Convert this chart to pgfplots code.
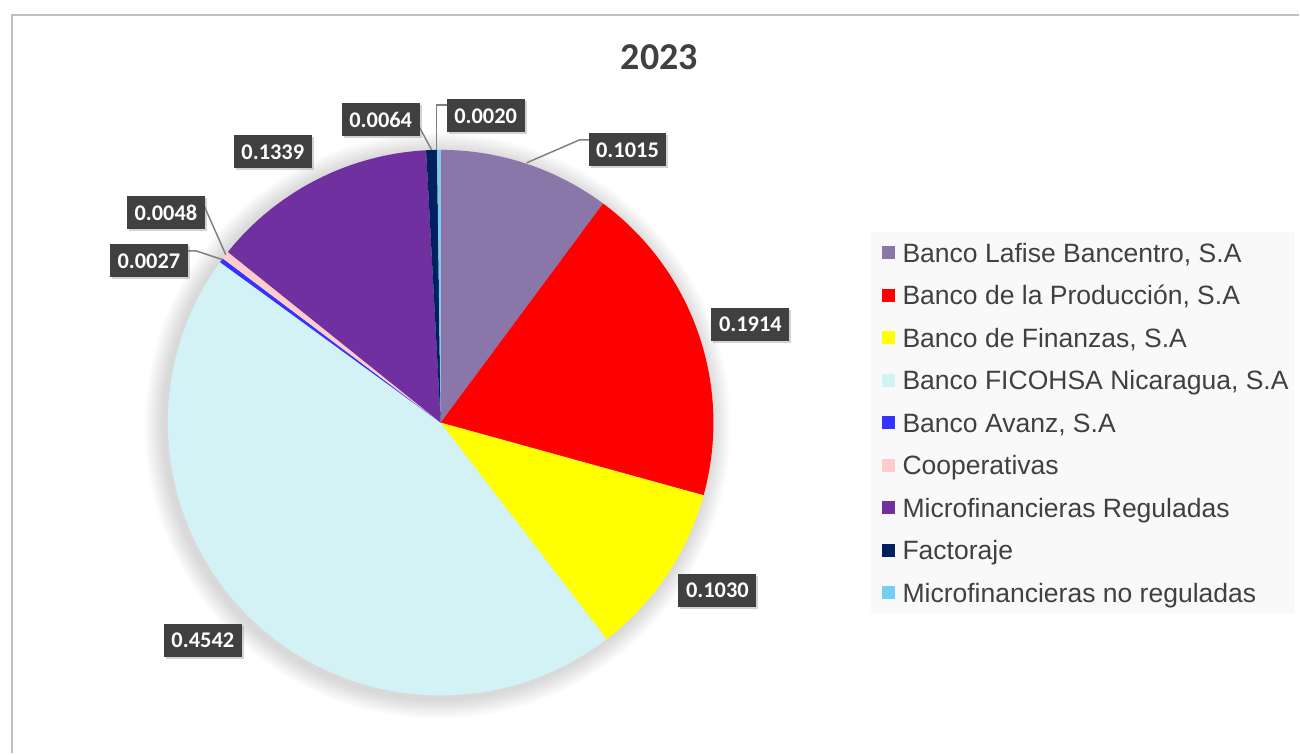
\documentclass[border=0pt]{standalone}
\usepackage{pgfplots}
\pgfplotsset{compat=1.18}
\usepackage{pgfplotstable}
\usepackage{fontspec}
\setmainfont{Liberation Sans}
\newfontfamily\carlito{Carlito}
\usetikzlibrary{shadows}
\definecolor{cLaf}{HTML}{8A76A8}
\definecolor{cProd}{HTML}{FF0000}
\definecolor{cFin}{HTML}{FFFF00}
\definecolor{cFic}{HTML}{D3F2F5}
\definecolor{cAva}{HTML}{3333FF}
\definecolor{cCoop}{HTML}{FFCCCC}
\definecolor{cMR}{HTML}{7030A0}
\definecolor{cFac}{HTML}{002060}
\definecolor{cMNR}{HTML}{75CEF0}
\definecolor{lblbg}{HTML}{404040}
\definecolor{txt}{HTML}{404040}
\definecolor{lead}{HTML}{808080}
\definecolor{bordc}{HTML}{C0C0C0}
\definecolor{legbg}{HTML}{F9F9F9}

\pgfplotstableread{
value col lx ly name
0.1015 cLaf 628 150 {Banco Lafise Bancentro, S.A}
0.1914 cProd 751 325 {Banco de la Producción, S.A}
0.1030 cFin 718 591 {Banco de Finanzas, S.A}
0.4542 cFic 203 641 {Banco FICOHSA Nicaragua, S.A}
0.0027 cAva 149 261 {Banco Avanz, S.A}
0.0048 cCoop 166 213 {Cooperativas}
0.1339 cMR 273 152 {Microfinancieras Reguladas}
0.0064 cFac 381 120 {Factoraje}
0.0020 cMNR 486 116 {Microfinancieras no reguladas}
}\piedata

\tikzset{lbl/.style={fill=lblbg, text=white, font=\carlito\bfseries\fontsize{16.8}{18}\selectfont,
  minimum width=58.5pt, minimum height=24.75pt, inner sep=0pt,
  drop shadow={opacity=0.35, shadow xshift=1.5pt, shadow yshift=-1.5pt}}}

\begin{document}
\begin{tikzpicture}
\begin{axis}[scale only axis, width=975pt, height=565.5pt,
  xmin=0, xmax=1300, ymin=0, ymax=754, y dir=reverse,
  hide axis, clip=false]
\path (axis cs:0,0) rectangle (axis cs:1300,754);
\draw[bordc, line width=1.6pt] (axis cs:12,754) -- (axis cs:12,15) -- (axis cs:1300,15);
% title
\node[font=\carlito\bfseries\fontsize{28.5}{32}\selectfont, text=txt] at (axis cs:660,57) {2023};
% soft shadow
\pgfplotsforeachungrouped \k in {1,...,10}{%
  \pgfmathsetmacro\rr{204.75+1.5*\k}%
  \edef\tmp{\noexpand\fill[black, opacity=0.014] (axis cs:438,426) circle[radius=\rr pt];}\tmp
}
% wedges
\gdef\cum{0}
\pgfplotsforeachungrouped \i in {0,...,8}{%
  \pgfplotstablegetelem{\i}{value}\of\piedata \let\myval\pgfplotsretval
  \pgfplotstablegetelem{\i}{col}\of\piedata \let\mycol\pgfplotsretval
  \pgfmathsetmacro\st{90-360*\cum}%
  \pgfmathsetmacro\newcum{\cum+\myval}%
  \global\let\cum\newcum
  \pgfmathsetmacro\en{90-360*\cum}%
  \edef\tmp{\noexpand\fill[\mycol] (axis cs:441,423) -- ++(\st:204.75pt) arc[start angle=\st, end angle=\en, radius=204.75pt] -- cycle;}\tmp
}
% leader lines
\draw[lead, line width=1.1pt] (axis cs:527,163) -- (axis cs:580,140) -- (axis cs:590,140);
\draw[lead, line width=1.1pt] (axis cs:419,126) -- (axis cs:432,150);
\draw[lead, line width=1.1pt] (axis cs:437,150) -- (axis cs:437,105) -- (axis cs:449,105);
\draw[lead, line width=1.1pt] (axis cs:203,203) -- (axis cs:226,255);
\draw[lead, line width=1.1pt] (axis cs:186,251) -- (axis cs:196,251) -- (axis cs:223,260);
% labels and legend
\fill[legbg] (axis cs:872,232) rectangle (axis cs:1296,613);
\pgfplotsforeachungrouped \i in {0,...,8}{%
  \pgfplotstablegetelem{\i}{value}\of\piedata \let\myval\pgfplotsretval
  \pgfplotstablegetelem{\i}{col}\of\piedata \let\mycol\pgfplotsretval
  \pgfplotstablegetelem{\i}{lx}\of\piedata \let\mylx\pgfplotsretval
  \pgfplotstablegetelem{\i}{ly}\of\piedata \let\myly\pgfplotsretval
  \pgfplotstablegetelem{\i}{name}\of\piedata \let\myname\pgfplotsretval
  \pgfmathsetmacro\gy{253+42.5*\i}%
  \pgfmathsetmacro\by{\gy+9.5}%
  \edef\tmp{\noexpand\node[lbl] at (axis cs:\mylx,\myly) {\myval};
    \noexpand\fill[\mycol] (axis cs:883,\gy) ++(0,-4.875pt) rectangle ++(9.75pt,9.75pt);
    \noexpand\node[anchor=base west, inner sep=0pt, text=txt, font=\noexpand\fontsize{19.9}{22}\noexpand\selectfont] at (axis cs:903,\by) {\myname};}\tmp
}
\end{axis}
\end{tikzpicture}
\end{document}
